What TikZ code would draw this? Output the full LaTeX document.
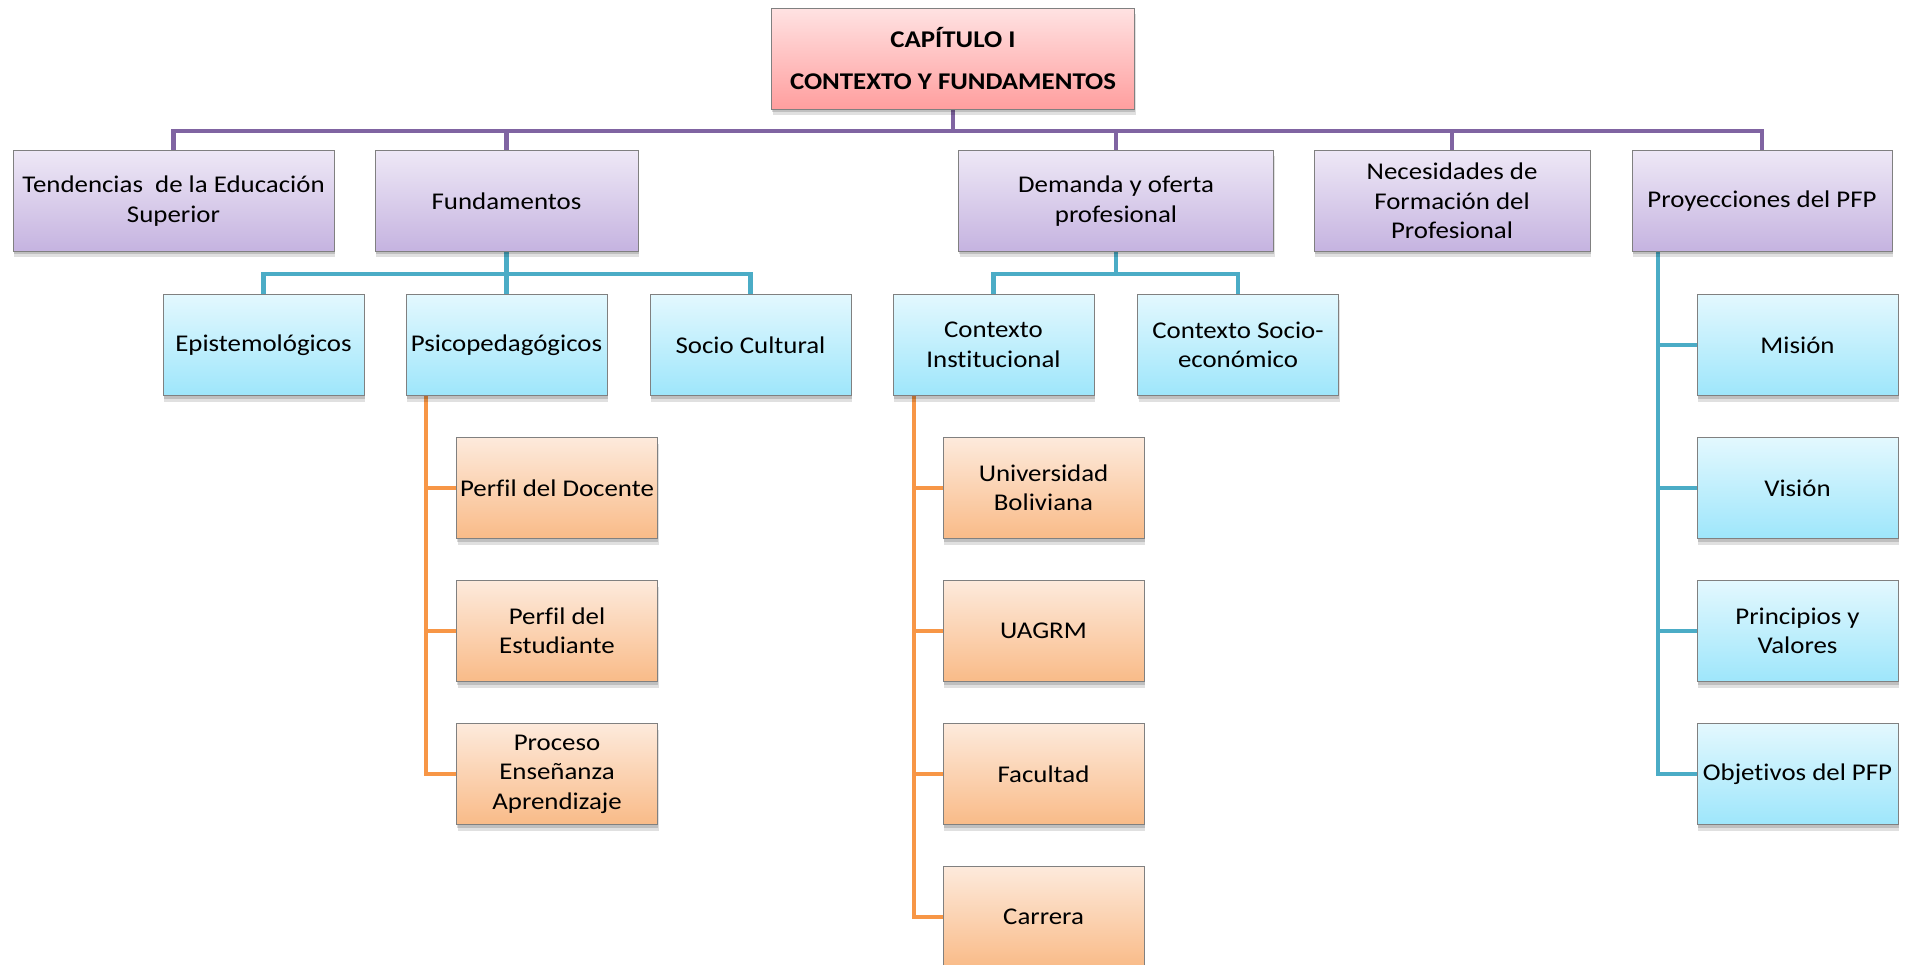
\documentclass[tikz,border=0pt]{standalone}
\usepackage{fontspec}
\setmainfont{Carlito}[FakeStretch=1.12, Ligatures=NoCommon]
\usetikzlibrary{shadows,backgrounds}
\definecolor{purpline}{HTML}{8064A2}
\definecolor{tealline}{HTML}{4BACC6}
\definecolor{orgline}{HTML}{F79646}
\definecolor{ptop}{HTML}{EEE8F6}
\definecolor{pbot}{HTML}{C5B3E0}
\definecolor{ttop}{HTML}{E3F8FE}
\definecolor{tbot}{HTML}{9EE6FB}
\definecolor{otop}{HTML}{FDEADC}
\definecolor{obot}{HTML}{F9BB88}
\definecolor{rtop}{HTML}{FFE2E2}
\definecolor{rbot}{HTML}{FF9E9E}
\tikzset{
  basebox/.style={draw=black!50, line width=1pt, minimum height=101pt, inner sep=2pt,
    align=center, font=\fontsize{24}{29.5}\selectfont,
    drop shadow={shadow xshift=1pt, shadow yshift=-6pt, opacity=0.12, fill=black},
    drop shadow={shadow xshift=0.5pt, shadow yshift=-3pt, opacity=0.15, fill=black}},
  pbox/.style={basebox, top color=ptop, bottom color=pbot},
  tbox/.style={basebox, top color=ttop, bottom color=tbot, minimum width=201pt},
  obox/.style={basebox, top color=otop, bottom color=obot, minimum width=201pt},
  rbox/.style={basebox, top color=rtop, bottom color=rbot},
  pl/.style={draw=purpline, line width=4.5pt},
  tl/.style={draw=tealline, line width=4.5pt},
  ol/.style={draw=orgline, line width=4.5pt},
}
\begin{document}
\begin{tikzpicture}[x=1pt, y=-1pt]
\useasboundingbox (0,0) rectangle (1908,965);
% top
\node[rbox, minimum width=363pt, font=\fontsize{24}{42}\selectfont\bfseries] (top) at (953,59) {CAPÍTULO I\\CONTEXTO Y FUNDAMENTOS};
% level 1
\node[pbox, minimum width=321pt] (tend) at (173.5,201) {Tendencias\ \ de la Educación\\Superior};
\node[pbox, minimum width=263pt] (fund) at (506.5,201) {Fundamentos};
\node[pbox, minimum width=315pt] (dem) at (1116,201) {Demanda y oferta\\profesional};
\node[pbox, minimum width=276pt] (nec) at (1452,201) {Necesidades de\\Formación del\\Profesional};
\node[pbox, minimum width=260pt] (proy) at (1762,201) {Proyecciones del PFP};
% level 2
\node[tbox] (epis) at (263.5,345) {Epistemológicos};
\node[tbox] (psico) at (506.5,345) {Psicopedagógicos};
\node[tbox] (socc) at (750.5,345) {Socio Cultural};
\node[tbox] (cinst) at (993.5,345) {Contexto\\Institucional};
\node[tbox] (csoc) at (1238,345) {Contexto Socio-\\económico};
\node[tbox] (mis) at (1797.5,345) {Misión};
\node[tbox] (vis) at (1797.5,488) {Visión};
\node[tbox] (prin) at (1797.5,631) {Principios y\\Valores};
\node[tbox] (obj) at (1797.5,774) {Objetivos del PFP};
% level 3
\node[obox] (pdoc) at (557,488) {Perfil del Docente};
\node[obox] (pest) at (557,631) {Perfil del\\Estudiante};
\node[obox] (proc) at (557,774) {Proceso\\Enseñanza\\Aprendizaje};
\node[obox] (ub) at (1043.5,488) {Universidad\\Boliviana};
\node[obox] (uag) at (1043.5,631) {UAGRM};
\node[obox] (fac) at (1043.5,774) {Facultad};
\node[obox] (car) at (1043.5,917) {Carrera};
% connectors
\begin{scope}[on background layer]
\foreach \c in {tend,fund,dem,nec,proy}
  \draw[pl] (top.south) -- ++(0,21) -| (\c.north);
\foreach \c in {epis,psico,socc}
  \draw[tl] (fund.south) -- ++(0,22) -| (\c.north);
\foreach \c in {cinst,csoc}
  \draw[tl] (dem.south) -- ++(0,22) -| (\c.north);
\foreach \c in {mis,vis,prin,obj}
  \draw[tl] ([xshift=-104pt]proy.south) |- (\c.west);
\foreach \c in {pdoc,pest,proc}
  \draw[ol] ([xshift=-80.5pt]psico.south) |- (\c.west);
\foreach \c in {ub,uag,fac,car}
  \draw[ol] ([xshift=-79.5pt]cinst.south) |- (\c.west);
\end{scope}
\end{tikzpicture}
\end{document}
